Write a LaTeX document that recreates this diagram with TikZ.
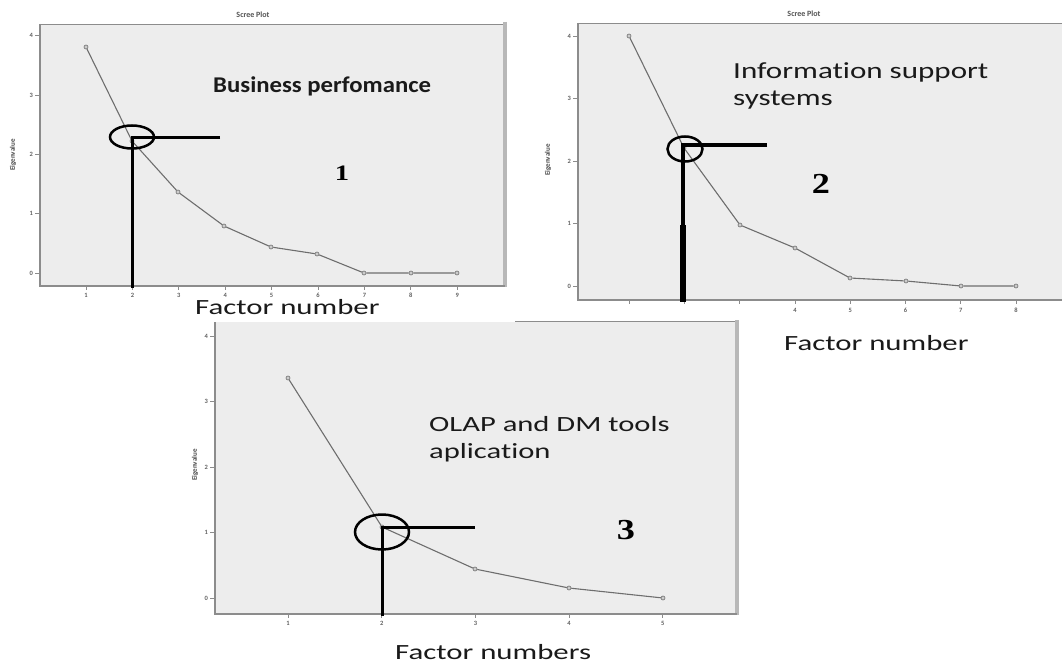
\documentclass[tikz,border=0pt]{standalone}
\usepackage{fontspec}
\setmainfont{Carlito}[Ligatures=NoCommon]
\newfontfamily\serifbold{Liberation Serif}
\usetikzlibrary{shapes.geometric}
\definecolor{plotbg}{HTML}{EDEDED}
\definecolor{axc}{HTML}{8C8C8C}
\definecolor{lnc}{HTML}{6E6E6E}
\definecolor{txc}{HTML}{1A1A1A}
\definecolor{rbc}{HTML}{B8B8B8}
\newcommand\xstr[3]{\scalebox{#1}[1]{\fontsize{#2}{#2}\selectfont #3}}
\begin{document}
\begin{tikzpicture}[x=1pt,y=-1pt,
  dpt/.style={circle, draw=lnc, fill=lnc!35, inner sep=0pt, minimum size=4pt, line width=0.6pt},
  dataline/.style={draw=lnc, line width=1.1pt},
  axisline/.style={draw=axc, line width=1.6pt},
  tickline/.style={draw=axc, line width=0.8pt},
  ticklab/.style={font=\fontsize{6.5}{6.5}\selectfont\bfseries, text=axc!70!black, inner sep=0pt},
  title/.style={font=\fontsize{8}{8}\selectfont\bfseries, text=axc!60!black, inner sep=0pt},
  ylab/.style={font=\fontsize{7}{7}\selectfont\bfseries, text=axc!50!black, inner sep=0pt, rotate=90},
  markline/.style={draw=black, line width=3pt},
  ring/.style={ellipse, draw=black, line width=2.5pt, inner sep=0pt},
  bigtext/.style={anchor=west, inner sep=0pt, text=txc},
  numtext/.style={inner sep=0pt, text=black}
]
\useasboundingbox (0,0) rectangle (1062,666);
\fill[white] (0,0) rectangle (1062,666);

% ---------------- Plot 1 ----------------
\fill[plotbg] (40,24) rectangle (505,285);
\draw[axc, line width=0.8pt] (40,24) -- (505,24);
\draw[rbc, line width=3.5pt] (505,22) -- (505,287);
\draw[axisline] (40,24) -- (40,286) -- (505,286);
\node[title] (t1) at (253,15) {Scree Plot};
\node[ylab] (e1) at (13,155) {Eigenvalue};
\foreach \v/\y in {0/273,1/213.7,2/154.4,3/95.1,4/35.8} {
  \draw[tickline] (35,\y) -- (40,\y);
  \node[ticklab, anchor=east] at (33,\y) {\v};
}
\foreach \k [evaluate=\k as \xx using 86+46.4*(\k-1)] in {1,...,9} {
  \draw[tickline] (\xx,286) -- (\xx,290);
  \node[ticklab] at (\xx,295) {\k};
}
\foreach \i/\x/\y in {1/86/47,2/132/141,3/178/192,4/224/226,5/271/247,6/317/254,7/364/273,8/411/273,9/457/273}
  \node[dpt] (a\i) at (\x,\y) {};
\draw[dataline] (a1) -- (a2) -- (a3) -- (a4) -- (a5) -- (a6) -- (a7) -- (a8) -- (a9);
\node[ring, minimum width=44pt, minimum height=23pt] (r1) at (132,137) {};
\coordinate (c1) at (132,137);
\coordinate (h1) at (220,137);
\coordinate (v1) at (132,288);
\draw[markline] (h1) -- (c1) -- (v1);
\node[bigtext] (n1) at (213,86) {\xstr{1.1}{22.5}{\bfseries Business perfomance}};
\node[numtext] (d1) at (342,173) {\xstr{1.3}{22}{\serifbold\bfseries 1}};
\node[bigtext] (f1) at (195,307) {\xstr{1.42}{21.7}{Factor number}};

% ---------------- Plot 2 ----------------
\fill[plotbg] (578,23) rectangle (1062,299);
\draw[axc, line width=0.8pt] (578,23) -- (1062,23);
\draw[axisline] (578,23) -- (578,300) -- (1062,300);
\node[title] (t2) at (804,14) {Scree Plot};
\node[ylab] (e2) at (548,160) {Eigenvalue};
\foreach \v/\y in {0/286,1/223.5,2/161,3/98.5,4/36} {
  \draw[tickline] (573,\y) -- (578,\y);
  \node[ticklab, anchor=east] at (571,\y) {\v};
}
\foreach \k [evaluate=\k as \xx using 629+55.3*(\k-1)] in {1,...,8} {
  \draw[tickline] (\xx,300) -- (\xx,304);
}
\foreach \k [evaluate=\k as \xx using 629+55.3*(\k-1)] in {4,...,8} {
  \node[ticklab] at (\xx,310) {\k};
}
\foreach \i/\x/\y in {1/629/36,2/684/148,3/740/225,4/795/248,5/850/278,6/906/281,7/961/286,8/1016/286}
  \node[dpt] (b\i) at (\x,\y) {};
\draw[dataline] (b1) -- (b2) -- (b3) -- (b4) -- (b5) -- (b6) -- (b7) -- (b8);
\node[ring, minimum width=35pt, minimum height=25pt] (r2) at (685,149) {};
\coordinate (c2) at (683,145);
\coordinate (h2) at (767,145);
\coordinate (m2) at (683,225);
\coordinate (v2) at (683,302);
\draw[markline, line width=3.5pt] (h2) -- (c2) -- (m2);
\draw[markline, line width=5.5pt] (m2) -- (v2);
\node[bigtext] (n2a) at (733,72) {\xstr{1.35}{23}{Information support}};
\node[bigtext] (n2b) at (733,100) {\xstr{1.35}{23}{systems}};
\node[numtext] (d2) at (821,184) {\xstr{1.25}{29}{\serifbold\bfseries 2}};
\node[bigtext] (f2) at (784,343) {\xstr{1.42}{21.7}{Factor number}};

% ---------------- Plot 3 ----------------
\fill[plotbg] (215,322) rectangle (737,613);
\draw[axc, line width=0.8pt] (515,321) -- (737,321);
\draw[rbc, line width=3.5pt] (737,320) -- (737,615);
\draw[axisline] (215,322) -- (215,614) -- (737,614);
\node[ylab] (e3) at (195,465) {Eigenvalue};
\foreach \v/\y in {0/598,1/532.5,2/467,3/401.5,4/336} {
  \draw[tickline] (210,\y) -- (215,\y);
  \node[ticklab, anchor=east] at (208,\y) {\v};
}
\foreach \k [evaluate=\k as \xx using 288+93.7*(\k-1)] in {1,...,5} {
  \draw[tickline] (\xx,614) -- (\xx,618);
  \node[ticklab] at (\xx,623) {\k};
}
\foreach \i/\x/\y in {1/288/378,2/382/527,3/475/569,4/569/588,5/663/598}
  \node[dpt] (g\i) at (\x,\y) {};
\draw[dataline] (g1) -- (g2) -- (g3) -- (g4) -- (g5);
\node[ring, minimum width=54pt, minimum height=35pt] (r3) at (382,532) {};
\coordinate (c3) at (382,527);
\coordinate (h3) at (475,527);
\coordinate (v3) at (382,616);
\draw[markline] (h3) -- (c3) -- (v3);
\node[bigtext] (n3a) at (429,424) {\xstr{1.41}{21.7}{OLAP and DM tools}};
\node[bigtext] (n3b) at (429,453) {\xstr{1.41}{21.7}{aplication}};
\node[numtext] (d3) at (626,530) {\xstr{1.25}{29}{\serifbold\bfseries 3}};
\node[bigtext] (f3) at (395,652) {\xstr{1.42}{21.7}{Factor numbers}};
\end{tikzpicture}
\end{document}
